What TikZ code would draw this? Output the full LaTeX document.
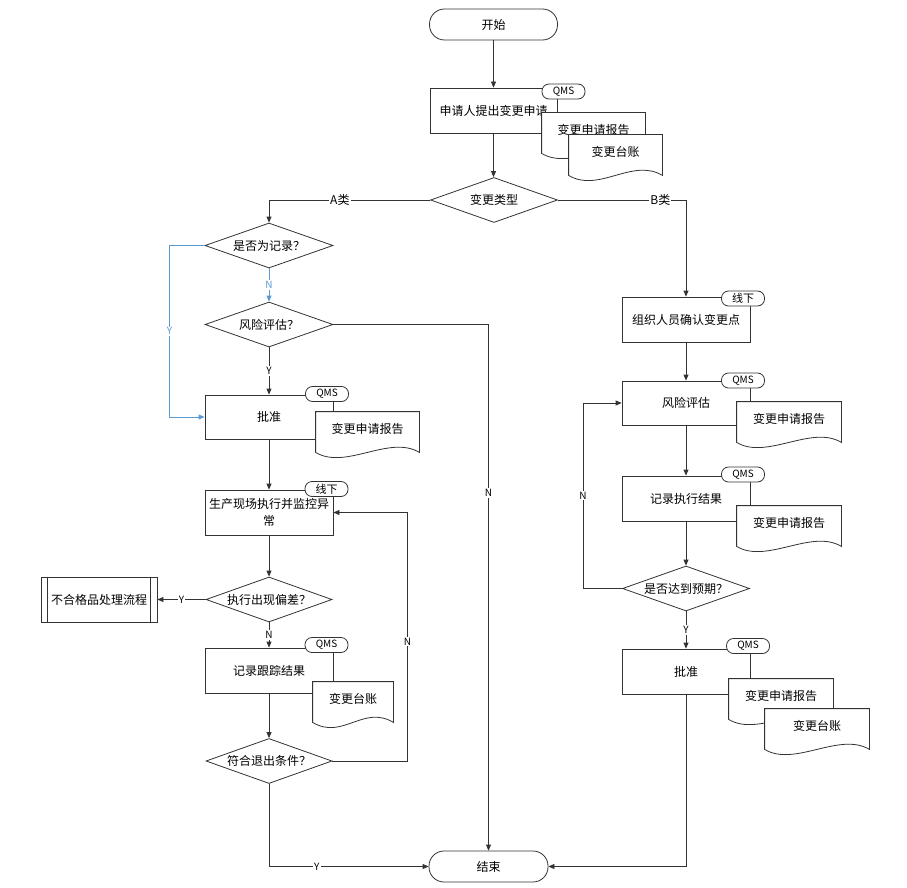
\documentclass[tikz,border=0pt]{standalone}
\usepackage{fontspec}
\setmainfont{Noto Sans CJK SC}
\usetikzlibrary{arrows.meta,positioning,shapes.geometric}
\definecolor{linkblue}{RGB}{91,155,213}

% outline of a document node with a wavy bottom
\newcommand{\docedge}[1]{%
  \draw[draw=black!80] (#1.north west) -- (#1.north east) -- (#1.south east)
    .. controls ([xshift=-30pt,yshift=18pt]#1.south east) and ([xshift=30pt,yshift=-18pt]#1.south west) .. (#1.south west) -- cycle;}

\begin{document}
\begin{tikzpicture}[
    x=1pt, y=1pt,
    line width=0.8pt,
    font=\fontsize{12}{15}\selectfont,
    box/.style={
        rectangle,
        draw=black!80,
        fill=white,
        minimum width=#1,
        minimum height=45pt,
        inner sep=2pt,
        align=center
    },
    box/.default=128pt,
    terminal/.style={
        rectangle,
        rounded corners=15pt,
        draw=black!80,
        fill=white,
        minimum width=#1,
        minimum height=31pt
    },
    decision/.style={
        diamond,
        aspect=2.8,
        draw=black!80,
        fill=white,
        minimum width=128pt,
        minimum height=45pt,
        inner sep=0pt
    },
    doc/.style={
        rectangle,
        fill=white,
        minimum width=#1,
        minimum height=40pt,
        inner sep=0pt,
        text height=9pt,
        text depth=6pt
    },
    tagbox/.style={
        rectangle,
        rounded corners=7pt,
        draw=black!80,
        fill=white,
        minimum width=43pt,
        minimum height=15pt,
        inner sep=0pt,
        font=\fontsize{10}{11}\selectfont
    },
    flow/.style={
        draw=black!80,
        -{Triangle[length=6pt,width=5pt]}
    },
    yn/.style={
        fill=white,
        inner sep=1pt,
        font=\fontsize{10}{11}\selectfont
    }
]
\useasboundingbox (0,0) rectangle (907,-888);

% Start and request
\node[terminal=128pt] (start) at (493.5,-24.5) {开始};
\node[box=127pt] (apply) at (493.5,-110.5) {申请人提出变更申请};
\node[decision, minimum width=127pt] (kind) at (494,-200) {变更类型};

% A branch
\node[decision] (isrec) at (269,-245.5) {是否为记录？};
\node[decision] (riskq) at (269,-324.5) {风险评估？};
\node[box, minimum height=44pt] (apprA) at (269,-417) {批准};
\node[box] (exec) at (269,-512.5) {生产现场执行并监控异\\[2pt]常};
\node[decision, minimum width=126pt] (dev) at (269,-599.5) {执行出现偏差？};
\node[box=116pt] (ncr) at (99,-599.5) {不合格品处理流程};
\draw[draw=black!80] ([xshift=7pt]ncr.north west) -- ([xshift=7pt]ncr.south west)
    ([xshift=-7pt]ncr.north east) -- ([xshift=-7pt]ncr.south east);
\node[box] (track) at (269,-670.5) {记录跟踪结果};
\node[decision, minimum width=126pt] (exitq) at (269,-761) {符合退出条件？};
\node[terminal=119pt] (stop) at (488.5,-866.5) {结束};

% B branch
\node[box] (org) at (686,-319.5) {组织人员确认变更点};
\node[box, minimum height=44pt] (riskB) at (686,-403) {风险评估};
\node[box] (recB) at (686,-498.5) {记录执行结果};
\node[decision, minimum width=127pt] (goal) at (686,-588.5) {是否达到预期？};
\node[box] (apprB) at (686,-671.5) {批准};

% Connectors
\draw[flow] (start) -- (apply);
\draw[flow] (apply.south) -- (apply.south |- kind.north);
\draw[flow] (kind.west) -| node[pos=0.28, fill=white, inner sep=1pt] {A类} (isrec.north);
\draw[flow] (kind.east) -| node[pos=0.4, fill=white, inner sep=1pt] {B类} (org.north);
\draw[flow, draw=linkblue] (isrec.west) -- ++(-35,0) |- node[pos=0.25, yn, text=linkblue] {Y} (apprA.west);
\draw[flow, draw=linkblue] (isrec) -- node[yn, text=linkblue] {N} (riskq);
\draw[flow] (riskq.east) -| node[pos=0.66, yn] {N} (stop.north);
\draw[flow] (riskq) -- node[yn] {Y} (apprA);
\draw[flow] (apprA) -- (exec);
\draw[flow] (exec) -- (dev);
\draw[flow] (dev) -- node[yn] {Y} (ncr);
\draw[flow] (dev) -- node[yn] {N} (track);
\draw[flow] (track) -- (exitq);
\draw[flow] (exitq.east) -- ++(75,0) |- node[pos=0.24, yn] {N} (exec.east);
\draw[flow] (exitq.south) |- node[pos=0.65, yn] {Y} (stop.west);
\draw[flow] (org) -- (riskB);
\draw[flow] (riskB) -- (recB);
\draw[flow] (recB) -- (goal);
\draw[flow] (goal.west) -- ++(-39,0) |- node[pos=0.25, yn] {N} (riskB.west);
\draw[flow] (goal) -- node[yn] {Y} (apprB);
\draw[flow] (apprB.south) |- (stop.east);

% Documents
\node[doc=103pt] (reqrep) at (593.5,-133) {变更申请报告};
\docedge{reqrep}
\node[doc=93pt] (reqled) at (615.5,-155) {变更台账};
\docedge{reqled}
\node[doc=103pt] (apprArep) at (367.5,-432) {变更申请报告};
\docedge{apprArep}
\node[doc=80pt] (trackled) at (353,-702) {变更台账};
\docedge{trackled}
\node[doc=104pt] (riskBrep) at (789,-422) {变更申请报告};
\docedge{riskBrep}
\node[doc=104pt] (recBrep) at (789,-526) {变更申请报告};
\docedge{recBrep}
\node[doc=104pt] (apprBrep) at (781,-699) {变更申请报告};
\docedge{apprBrep}
\node[doc=104pt] (apprBled) at (817,-729) {变更台账};
\docedge{apprBled}

% Tags
\node[tagbox] (applytag) at (563.5,-91.5) {QMS};
\node[tagbox] (apprAtag) at (327,-394) {QMS};
\node[tagbox, font=\fontsize{11}{12}\selectfont] (exectag) at (326.5,-489) {线下};
\node[tagbox] (tracktag) at (326.5,-645) {QMS};
\node[tagbox, font=\fontsize{11}{12}\selectfont] (orgtag) at (743,-298.5) {线下};
\node[tagbox] (riskBtag) at (743,-380.5) {QMS};
\node[tagbox] (recBtag) at (743,-474.5) {QMS};
\node[tagbox] (apprBtag) at (748,-646) {QMS};

\end{tikzpicture}
\end{document}
